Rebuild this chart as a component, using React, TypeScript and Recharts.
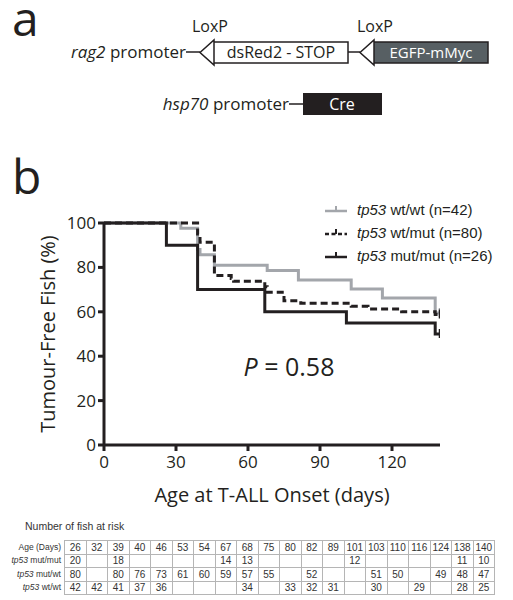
import React from 'react';
import { LineChart, Line, XAxis, YAxis } from 'recharts';

// survival curves (% tumour-free)
const wtwtDays = [0, 32, 39, 40, 46, 68, 81, 103, 116, 138, 140];
const wtwtPct = [100, 97.6, 88.1, 85.7, 81, 78.6, 74.3, 70.3, 66.2, 59.5, 59.5];
const wtmutDays = [0, 39, 40, 46, 53, 54, 67, 68, 75, 82, 103, 110, 124, 138, 140];
const wtmutPct = [100, 95, 91.3, 76.3, 75, 73.8, 71.3, 68.8, 65, 63.8, 62.5, 61.3, 60, 58.8, 58.8];
const mutmutDays = [0, 26, 39, 67, 101, 138, 140];
const mutmutPct = [100, 90, 70, 60, 55, 50, 50];

const xTicks = [0, 30, 60, 90, 120];
const yTicks = [0, 20, 40, 60, 80, 100];

// number at risk table
const ages = [26, 32, 39, 40, 46, 53, 54, 67, 68, 75, 80, 82, 89, 101, 103, 110, 116, 124, 138, 140];
const riskMutMut = [20, null, 18, null, null, null, null, 14, 13, null, null, null, null, 12, null, null, null, null, 11, 10];
const riskMutWt = [80, null, 80, 76, 73, 61, 60, 59, 57, 55, null, 52, null, null, 51, 50, null, 49, 48, 47];
const riskWtWt = [42, 42, 41, 37, 36, null, null, null, 34, null, 33, 32, 31, null, 30, null, 29, null, 28, 25];

const toSeries = (days: number[], pct: number[]) =>
  days.map((d, i) => ({ day: d, pct: pct[i], cens: i === days.length - 1 }));

const INK = '#231f20';
const GREY = '#a3a6ab';
const AXIS_FONT = '"Open Sans", sans-serif';
const ARIAL = '"Liberation Sans", Arial, sans-serif';

const censorDot = (color: string) => (p: any) => {
  if (!p.payload.cens) return <g key={p.index} />;
  return <line key={p.index} x1={p.cx} x2={p.cx} y1={p.cy - 5} y2={p.cy + 4} stroke={color} strokeWidth={2.5} />;
};

const panelLetter = (ch: string, top: number) => (
  <div style={{ position: 'absolute', left: 12, top, fontFamily: AXIS_FONT, fontSize: 48, lineHeight: '40px', color: INK }}>{ch}</div>
);

const Diagram = () => (
  <svg width={513} height={130} style={{ position: 'absolute', left: 0, top: 0 }} fontFamily={AXIS_FONT}>
    <text x={192} y={32} fontSize={16} fill={INK}>LoxP</text>
    <text x={357} y={32} fontSize={16} fill={INK}>LoxP</text>
    <text x={186} y={58} fontSize={17} fill={INK} textAnchor="end">
      <tspan fontStyle="italic">rag2</tspan> promoter
    </text>
    <line x1={186} x2={200} y1={52} y2={52} stroke={INK} strokeWidth={1.5} />
    <rect x={213} y={42} width={135} height={21} fill="#fff" stroke={INK} strokeWidth={1.5} />
    <polygon points="200,52.5 214,40 214,65" fill="#fff" stroke={INK} strokeWidth={1.5} />
    <text x={281} y={58} fontSize={16} fill={INK} textAnchor="middle">dsRed2 - STOP</text>
    <line x1={348} x2={360} y1={52} y2={52} stroke={INK} strokeWidth={1.5} />
    <rect x={373} y={42} width={115} height={21} fill="#575f63" stroke={INK} strokeWidth={1.5} />
    <polygon points="360,52.5 374,40 374,65" fill="#fff" stroke={INK} strokeWidth={1.5} />
    <text x={431} y={58} fontSize={15} fill="#fff" textAnchor="middle">EGFP-mMyc</text>
    <text x={289} y={110} fontSize={17} fill={INK} textAnchor="end">
      <tspan fontStyle="italic">hsp70</tspan> promoter
    </text>
    <line x1={289} x2={303} y1={104} y2={104} stroke={INK} strokeWidth={1.5} />
    <rect x={303} y={93} width={79} height={22} fill={INK} />
    <text x={342} y={110} fontSize={16} fill="#fff" textAnchor="middle">Cre</text>
  </svg>
);

const legendItems = [
  { label: 'wt/wt (n=42)', color: GREY, dash: undefined },
  { label: 'wt/mut (n=80)', color: INK, dash: '4 2.5' },
  { label: 'mut/mut (n=26)', color: INK, dash: undefined },
];

const Legend = () => (
  <div style={{ position: 'absolute', left: 325, top: 198, fontFamily: ARIAL, fontSize: 15, color: INK }}>
    {legendItems.map(it => (
      <div key={it.label} style={{ display: 'flex', alignItems: 'center', height: 23 }}>
        <svg width={32} height={14}>
          <line x1={0} x2={22} y1={8} y2={8} stroke={it.color} strokeWidth={2.5} strokeDasharray={it.dash} />
          <line x1={11} x2={11} y1={3} y2={8} stroke={it.color} strokeWidth={2} />
        </svg>
        <span><i>tp53</i> {it.label}</span>
      </div>
    ))}
  </div>
);

const cell = (v: number | null, i: number) => (
  <td key={i} style={{ border: '1px solid #b5b5b5', width: 20.5, textAlign: 'center', padding: 0 }}>{v ?? ''}</td>
);

const RiskTable = () => (
  <div style={{ position: 'absolute', left: 0, top: 520, fontFamily: ARIAL, color: '#333' }}>
    <div style={{ marginLeft: 25, fontSize: 10.5, height: 20 }}>Number of fish at risk</div>
    <table style={{ borderCollapse: 'collapse', fontSize: 10, lineHeight: '11.5px' }}>
      <tbody>
        {[
          { name: 'Age (Days)', italic: '', vals: ages as (number | null)[] },
          { name: ' mut/mut', italic: 'tp53', vals: riskMutMut },
          { name: ' mut/wt', italic: 'tp53', vals: riskMutWt },
          { name: ' wt/wt', italic: 'tp53', vals: riskWtWt },
        ].map(r => (
          <tr key={r.name} style={{ height: 12.5 }}>
            <td style={{ width: 60, textAlign: 'right', fontSize: 8.5, paddingRight: 3, whiteSpace: 'nowrap' }}>
              {r.italic && <i>{r.italic}</i>}{r.name}
            </td>
            {r.vals.map(cell)}
          </tr>
        ))}
      </tbody>
    </table>
  </div>
);

export default function App() {
  const axisTick = { fill: INK, fontSize: 17, fontFamily: AXIS_FONT };
  return (
    <div style={{ position: 'absolute', left: 0, top: 0, width: 513, height: 600, background: '#fff', overflow: 'hidden' }}>
      <Diagram />
      {panelLetter('a', -2)}
      {panelLetter('b', 156)}
      <div style={{ position: 'absolute', left: 0, top: 0 }}>
        <LineChart width={513} height={520} margin={{ top: 223, right: 73, bottom: 25, left: 44 }}>
          <XAxis
            dataKey="day"
            type="number"
            domain={[0, 140]}
            ticks={xTicks}
            allowDataOverflow
            height={50}
            tick={axisTick}
            tickSize={6}
            tickMargin={5}
            axisLine={{ stroke: INK, strokeWidth: 3 }}
            tickLine={{ stroke: INK, strokeWidth: 3 }}
          />
          <YAxis
            type="number"
            domain={[0, 100]}
            ticks={yTicks}
            width={60}
            tick={axisTick}
            tickSize={6}
            tickMargin={2}
            axisLine={{ stroke: INK, strokeWidth: 3 }}
            tickLine={{ stroke: INK, strokeWidth: 3 }}
          />
          <Line data={toSeries(wtwtDays, wtwtPct)} dataKey="pct" type="stepAfter" stroke={GREY} strokeWidth={3} dot={censorDot(GREY)} activeDot={false} isAnimationActive={false} />
          <Line data={toSeries(wtmutDays, wtmutPct)} dataKey="pct" type="stepAfter" stroke={INK} strokeWidth={3} strokeDasharray="7 4" dot={censorDot(INK)} activeDot={false} isAnimationActive={false} />
          <Line data={toSeries(mutmutDays, mutmutPct)} dataKey="pct" type="stepAfter" stroke={INK} strokeWidth={3} dot={censorDot(INK)} activeDot={false} isAnimationActive={false} />
        </LineChart>
      </div>
      <div style={{ position: 'absolute', left: 47, top: 334, transform: 'translate(-50%, -50%) rotate(-90deg)', whiteSpace: 'nowrap', fontFamily: AXIS_FONT, fontSize: 20, color: INK }}>
        Tumour-Free Fish (%)
      </div>
      <div style={{ position: 'absolute', left: 272, top: 494, transform: 'translate(-50%, -50%)', whiteSpace: 'nowrap', fontFamily: AXIS_FONT, fontSize: 20, color: INK }}>
        Age at T-ALL Onset (days)
      </div>
      <div style={{ position: 'absolute', left: 289, top: 366, transform: 'translate(-50%, -50%)', whiteSpace: 'nowrap', fontFamily: AXIS_FONT, fontSize: 25, color: INK }}>
        <i>P</i> = 0.58
      </div>
      <Legend />
      <RiskTable />
    </div>
  );
}
